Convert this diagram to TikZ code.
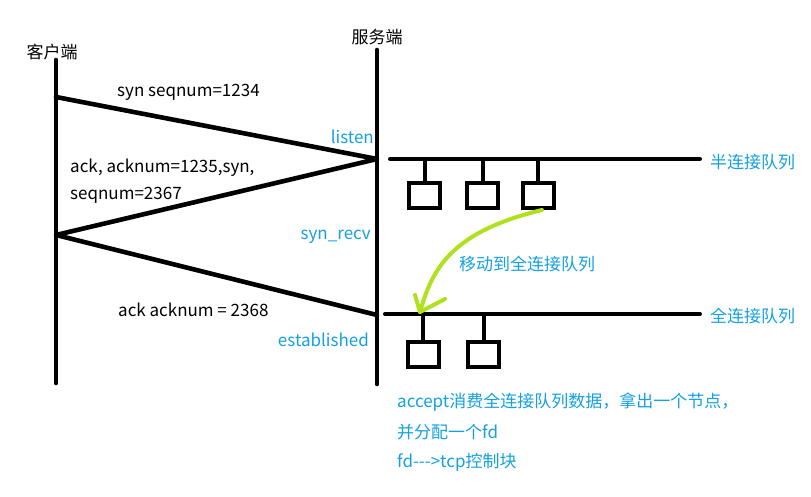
\documentclass[tikz,border=0pt]{standalone}
\usepackage{fontspec}
\setmainfont{Noto Sans CJK SC}
\begin{document}
\begin{tikzpicture}[x=1pt,y=-1pt,
  thick line/.style={line width=4.6pt,line cap=round,line join=round},
  queue line/.style={line width=4pt,line cap=round},
  slotbox/.style={draw,line width=4pt,minimum width=31pt,minimum height=25pt,inner sep=0pt},
  blk/.style={font=\fontsize{17pt}{19pt}\selectfont,inner sep=0pt},
  blu/.style={blk,text=qblue},
  greenarrow/.style={line width=4pt,line cap=round,draw=agreen}]
\definecolor{qblue}{RGB}{20,160,225}
\definecolor{agreen}{RGB}{175,225,30}
\useasboundingbox (0,0) rectangle (811,497);
% lifelines
\coordinate (ct) at (56,60);
\coordinate (cb) at (56,383);
\coordinate (st) at (377,50);
\coordinate (sb) at (377,384);
\draw[thick line] (ct) -- (cb);
\draw[thick line] (st) -- (sb);
\node[blk,anchor=center] (client) at (52,52) {客户端};
\node[blk,anchor=center] (server) at (377,37) {服务端};
% handshake
\coordinate (c1) at (56,97);
\coordinate (s1) at (377,159);
\coordinate (c2) at (56,235);
\coordinate (s2) at (377,315);
\draw[thick line] (c1) -- (s1) -- (c2) -- (s2);
\node[blk,anchor=west] (m1) at (117,92) {syn seqnum=1234};
\node[blk,anchor=west] (m2a) at (70,168) {ack, acknum=1235,syn,};
\node[blk,anchor=west] (m2b) at (70,195) {seqnum=2367};
\node[blk,anchor=west] (m3) at (118,310) {ack acknum = 2368};
\node[blu,anchor=east] (listen) at (374,137) {listen};
\node[blu,anchor=east] (synrecv) at (371,237) {syn\_recv};
\node[blu,anchor=east] (estab) at (369,340) {established};
% half queue
\coordinate (hq1) at (390,159);
\coordinate (hq2) at (700,159);
\draw[queue line] (hq1) -- (hq2);
\node[blu,anchor=west] (hql) at (710,162) {半连接队列};
\node[slotbox] (h1) at (424.5,195.5) {};
\node[slotbox] (h2) at (482.5,195.5) {};
\node[slotbox] (h3) at (538,195.5) {};
\foreach \n in {h1,h2,h3} {\draw[line width=4pt] (\n.north) -- (\n.north |- hq1);}
% full queue
\coordinate (fq1) at (385,314);
\coordinate (fq2) at (700,314);
\draw[queue line] (fq1) -- (fq2);
\node[blu,anchor=west] (fql) at (710,316) {全连接队列};
\node[slotbox] (f1) at (423,354.5) {};
\node[slotbox] (f2) at (483.5,354.5) {};
\foreach \n in {f1,f2} {\draw[line width=4pt] (\n.north) -- (\n.north |- fq1);}
% move arrow
\coordinate (ga) at (542,210);
\coordinate (gb) at (420,312);
\coordinate (gl) at (415,295);
\coordinate (gr) at (445,299);
\draw[greenarrow] (ga) .. controls (450,232) and (432,270) .. (gb);
\draw[greenarrow,line join=round] (gl) -- (gb) -- (gr);
\node[blu,anchor=west] (move) at (459,264) {移动到全连接队列};
% accept text
\node[blu,anchor=west] (acc1) at (397,402) {accept消费全连接队列数据，拿出一个节点，};
\node[blu,anchor=west] (acc2) at (397,432) {并分配一个fd};
\node[blu,anchor=west] (acc3) at (397,462) {fd-{}-{}->tcp控制块};
\end{tikzpicture}
\end{document}
